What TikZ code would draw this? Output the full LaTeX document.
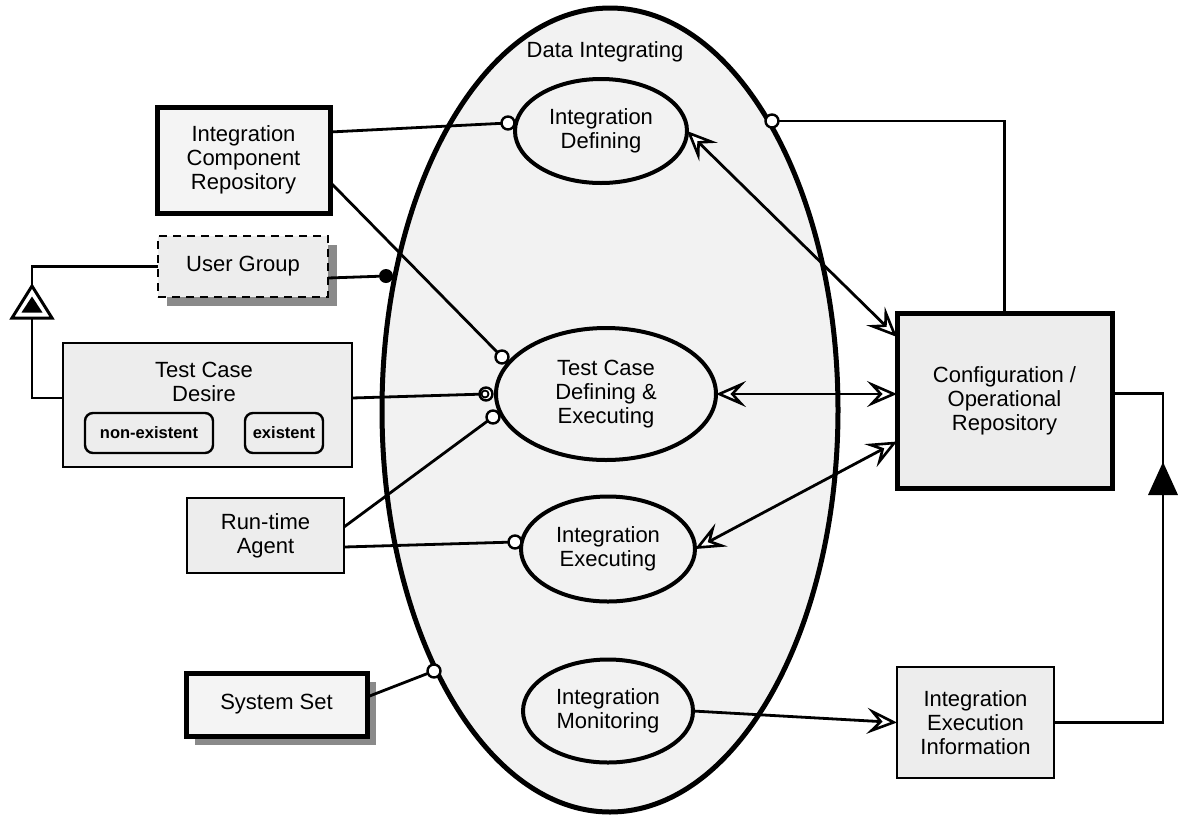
\documentclass[tikz,border=0pt]{standalone}
\usepackage{fontspec}
\setmainfont{Liberation Sans}
\usetikzlibrary{arrows.meta,shapes.geometric,shadows}

\definecolor{boxfill}{HTML}{EDEDED}
\definecolor{lightfill}{HTML}{F4F4F4}
\definecolor{ovalfill}{HTML}{F2F2F2}
\definecolor{shadowgray}{HTML}{8A8A8A}

\begin{document}
\begin{tikzpicture}[x=1pt,y=-1pt,
  txt/.style={font=\fontsize{22}{24}\selectfont, align=center},
  thickbox/.style={txt, rectangle, draw, line width=5pt, fill=lightfill, inner sep=0pt, outer sep=0pt},
  thinbox/.style={txt, rectangle, draw, line width=2.6pt, fill=boxfill, inner sep=0pt, outer sep=0pt},
  process/.style={txt, ellipse, draw, line width=4pt, fill=ovalfill, inner sep=0pt, outer sep=0pt},
  tagbox/.style={rectangle, draw, rounded corners=8pt, line width=2.4pt, fill=boxfill, inner sep=0pt,
    font=\fontsize{16.5}{18}\selectfont\bfseries},
  shadowed/.style={drop shadow={shadow xshift=9pt, shadow yshift=-9pt, fill=shadowgray, opacity=1}},
  link/.style={line width=2.8pt},
  openhead/.tip={Stealth[length=30pt,width=26pt,inset=12pt,fill=white,line width=2.6pt]},
  biarrow/.style={link, openhead-openhead},
  uniarrow/.style={link, -openhead},
  opencirc/.style={circle, draw, line width=2.4pt, fill=white, minimum size=13pt, inner sep=0pt, outer sep=0pt},
  dotmark/.style={circle, fill=black, minimum size=14pt, inner sep=0pt, outer sep=0pt}
]
\useasboundingbox (0,0) rectangle (1178,815);

% central process and its sub-processes
\node[ellipse, draw, line width=5pt, fill=ovalfill, minimum width=456pt, minimum height=804pt,
      inner sep=0pt, outer sep=0pt] (di) at (610,410) {};
\node[txt] (ditext) at (605,52) {Data Integrating};
\node[process, minimum width=172pt, minimum height=104pt] (idef) at (601,131) {Integration\\Defining};
\node[process, minimum width=220pt, minimum height=132pt] (tcde) at (606,394) {Test Case\\Defining \&\\Executing};
\node[process, minimum width=174pt, minimum height=105pt] (iex) at (608,549) {Integration\\Executing};
\node[process, minimum width=170pt, minimum height=103pt] (imon) at (608,711) {Integration\\Monitoring};

% objects on the left
\node[thickbox, minimum width=173pt, minimum height=106pt] (icr) at (243.5,160) {Integration\\Component\\Repository};
\node[thinbox, shadowed, dash pattern=on 8pt off 6pt, line width=2.8pt, minimum width=170pt, minimum height=61pt] (ug) at (243,266.5) {User Group};
\node[thinbox, minimum width=289pt, minimum height=124pt] (tcd) at (207.5,405) {};
\node[txt] (tcdtext) at (204,382) {Test Case\\Desire};
\node[tagbox, minimum width=128pt, minimum height=40pt] (nonex) at (149,433) {non-existent};
\node[tagbox, minimum width=78pt, minimum height=40pt] (exist) at (284,433) {existent};
\node[thinbox, minimum width=157pt, minimum height=75pt] (rta) at (265.5,535.5) {Run-time\\Agent};
\node[thickbox, shadowed, minimum width=181pt, minimum height=63pt] (ss) at (276.5,704.5) {System Set};

% objects on the right
\node[thickbox, fill=boxfill, minimum width=215pt, minimum height=175pt] (cfg) at (1004.5,400.5) {Configuration /\\Operational\\Repository};
\node[thinbox, minimum width=157pt, minimum height=111pt] (iei) at (975.5,722.5) {Integration\\Execution\\Information};

% link end markers
\node[opencirc] (c1) at (508,123) {};
\node[opencirc] (c2) at (502,357) {};
\node[opencirc] (c3) at (486,394) {};
\node[opencirc] (c4) at (493,417) {};
\node[opencirc] (c5) at (515,542) {};
\node[opencirc] (c6) at (434,671) {};
\node[opencirc] (c7) at (772,121) {};
\node[dotmark] (dot) at (386,276) {};

% agent links
\draw[link] ([yshift=28pt]icr.east) -- (c1);
\draw[link] ([yshift=-22pt]icr.east) -- (c2);
\draw[link] ([yshift=-11.5pt]ug.east) -- (dot);
\draw[link] ([yshift=7pt]tcd.east) -- (c3);
\draw[line width=1.8pt] ([xshift=-1pt]c3.center) circle[radius=3.5pt];
\draw[link] ([yshift=8.5pt]rta.east) -- (c4);
\draw[link] ([yshift=-11.5pt]rta.east) -- (c5);
\draw[link] ([yshift=7.5pt]ss.east) -- (c6);
\draw[link] (cfg.north) |- (c7);

% input / output links
\draw[biarrow] (idef.east) -- ([yshift=-24pt]cfg.north west);
\draw[biarrow] (tcde.east) -- (tcde.east -| cfg.west);
\draw[biarrow] (iex.east) -- ([yshift=-41pt]cfg.west);
\draw[uniarrow] (imon.east) -- (iei.west);

% aggregation: execution information into the repository
\coordinate (rx) at (1163,600);
\draw[link] (iei.east) -| (rx) |- ([yshift=7pt]cfg.east);
\coordinate (tri2) at (1163,495);
\fill (tri2) ++(-15,0) -- ++(15,-33) -- ++(15,33) -- cycle;

% generalization: user group and test case desire
\coordinate (lx) at (32,330);
\draw[link] (ug.west) -| (lx) |- ([yshift=7pt]tcd.west);
\coordinate (tri1) at (32,318);
\filldraw[fill=white, line width=3pt, line join=miter] (tri1) ++(-20,0) -- ++(20,-32) -- ++(20,32) -- cycle;
\fill (tri1) ++(-10.5,-5.5) -- ++(10.5,-16) -- ++(10.5,16) -- cycle;
\end{tikzpicture}
\end{document}
